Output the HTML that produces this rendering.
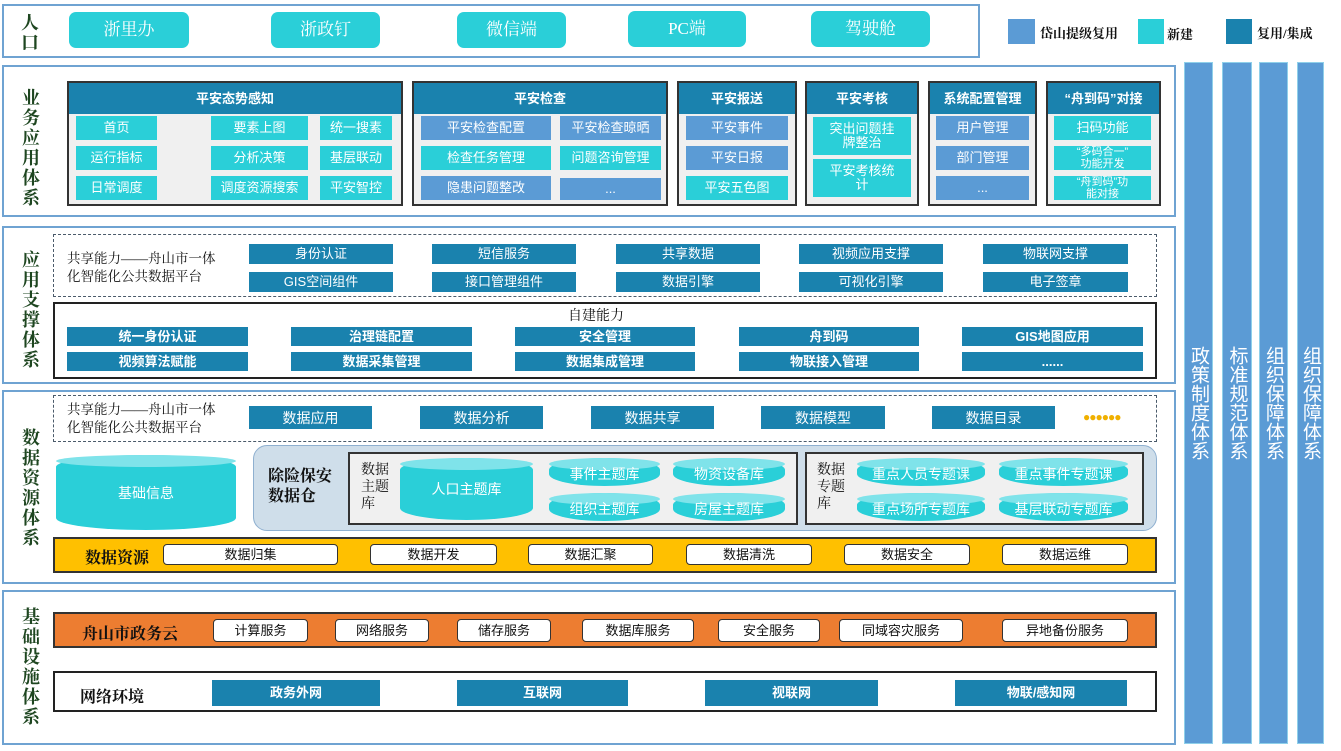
<!DOCTYPE html>
<html><head><meta charset="utf-8"><style>
*{box-sizing:border-box;margin:0;padding:0}
body{width:1341px;height:751px;background:#fff;position:relative;overflow:hidden;font-family:"Liberation Sans","Noto Sans CJK SC",sans-serif}
div{position:absolute}
.sec{border:2px solid #6fa3d2;background:#fff}
.lab{color:#1e4620;font-family:"Liberation Serif","Noto Serif CJK SC",serif;font-weight:bold;font-size:18px;line-height:20px;width:22px;text-align:center}
.c{display:flex;align-items:center;justify-content:center;text-align:center;color:#fff;font-size:13px;line-height:14px}
.cy{background:#2acfd8}.lb{background:#5b9bd5}.dk{background:#1a82ae}
.grp{border:2px solid #333;background:#f0f0f0}
.gh{left:0;top:0;right:0;height:31px;background:#1a82ae;color:#fff;font-weight:bold;font-size:13px}
.ent{background:#2acfd8;border-radius:7px;color:#fff;font-family:"Liberation Serif","Noto Serif CJK SC",serif;font-size:17px}
.vc{background:#5b9bd5;border:1px solid #8fd0ea;color:#fff;font-size:19px;line-height:23px;writing-mode:vertical-rl;display:flex;align-items:center;justify-content:center;font-family:"Liberation Sans","Noto Sans CJK SC",sans-serif}
.dash{border:1.5px dashed #4a5a6a}
.wb{background:#fff;border:1px solid #333;border-radius:4px;color:#111;font-size:13px}
.cyl{background:#2acfd8;border-radius:50%/12px;color:#fff}
.cyl::before{content:"";position:absolute;left:0;right:0;top:0;height:12px;border-radius:50%;background:#7fe3ea}
.cyl span{position:relative}
.bt{color:#111;font-weight:bold}
</style></head><body>

<!-- entry -->
<div class="sec" style="left:2px;top:4px;width:978px;height:54px"></div>
<div class="lab" style="left:19px;top:13px;">人口</div>
<div class="c ent" style="left:69px;top:12px;width:120px;height:36px">浙里办</div>
<div class="c ent" style="left:271px;top:12px;width:109px;height:36px">浙政钉</div>
<div class="c ent" style="left:457px;top:12px;width:109px;height:36px">微信端</div>
<div class="c ent" style="left:628px;top:11px;width:118px;height:36px">PC端</div>
<div class="c ent" style="left:811px;top:11px;width:119px;height:36px">驾驶舱</div>

<!-- legend -->
<div class="lb" style="left:1008px;top:19px;width:27px;height:25px"></div>
<div class="bt" style="left:1040px;top:23px;font-size:13px;font-family:'Liberation Serif','Noto Serif CJK SC',serif">岱山提级复用</div>
<div class="cy" style="left:1138px;top:19px;width:26px;height:25px"></div>
<div class="bt" style="left:1167px;top:24px;font-size:13px;font-family:'Liberation Serif','Noto Serif CJK SC',serif">新建</div>
<div class="dk" style="left:1226px;top:19px;width:26px;height:25px"></div>
<div class="bt" style="left:1257px;top:23px;font-size:13px;font-family:'Liberation Serif','Noto Serif CJK SC',serif">复用/集成</div>

<!-- right cols -->
<div class="vc" style="left:1184px;top:62px;width:29px;height:682px">政策制度体系</div>
<div class="vc" style="left:1222px;top:62px;width:30px;height:682px">标准规范体系</div>
<div class="vc" style="left:1259px;top:62px;width:29px;height:682px">组织保障体系</div>
<div class="vc" style="left:1297px;top:62px;width:27px;height:682px">组织保障体系</div>

<!-- business -->
<div class="sec" style="left:2px;top:65px;width:1174px;height:152px"></div>
<div class="lab" style="left:20px;top:88px;">业务应用体系</div>

<div class="grp" style="left:67px;top:81px;width:336px;height:125px"><div class="c gh">平安态势感知</div></div>
<div class="c cy" style="left:76px;top:116px;width:81px;height:24px">首页</div>
<div class="c cy" style="left:211px;top:116px;width:97px;height:24px">要素上图</div>
<div class="c cy" style="left:320px;top:116px;width:72px;height:24px">统一搜素</div>
<div class="c cy" style="left:76px;top:146px;width:81px;height:24px">运行指标</div>
<div class="c cy" style="left:211px;top:146px;width:97px;height:24px">分析决策</div>
<div class="c cy" style="left:320px;top:146px;width:72px;height:24px">基层联动</div>
<div class="c cy" style="left:76px;top:176px;width:81px;height:24px">日常调度</div>
<div class="c cy" style="left:211px;top:176px;width:97px;height:24px">调度资源搜索</div>
<div class="c cy" style="left:320px;top:176px;width:72px;height:24px">平安智控</div>

<div class="grp" style="left:412px;top:81px;width:256px;height:125px"><div class="c gh">平安检查</div></div>
<div class="c lb" style="left:421px;top:116px;width:130px;height:24px">平安检查配置</div>
<div class="c lb" style="left:560px;top:116px;width:101px;height:24px">平安检查晾晒</div>
<div class="c cy" style="left:421px;top:146px;width:130px;height:24px">检查任务管理</div>
<div class="c cy" style="left:560px;top:146px;width:101px;height:24px">问题咨询管理</div>
<div class="c lb" style="left:421px;top:176px;width:130px;height:24px">隐患问题整改</div>
<div class="c lb" style="left:560px;top:178px;width:101px;height:22px">...</div>

<div class="grp" style="left:677px;top:81px;width:120px;height:125px"><div class="c gh">平安报送</div></div>
<div class="c lb" style="left:686px;top:116px;width:102px;height:24px">平安事件</div>
<div class="c lb" style="left:686px;top:146px;width:102px;height:24px">平安日报</div>
<div class="c cy" style="left:686px;top:176px;width:102px;height:24px">平安五色图</div>

<div class="grp" style="left:805px;top:81px;width:114px;height:125px"><div class="c gh">平安考核</div></div>
<div class="c cy" style="left:813px;top:117px;width:98px;height:38px">突出问题挂<br>牌整治</div>
<div class="c cy" style="left:813px;top:159px;width:98px;height:38px">平安考核统<br>计</div>

<div class="grp" style="left:928px;top:81px;width:109px;height:125px"><div class="c gh">系统配置管理</div></div>
<div class="c lb" style="left:936px;top:116px;width:93px;height:24px">用户管理</div>
<div class="c lb" style="left:936px;top:146px;width:93px;height:24px">部门管理</div>
<div class="c lb" style="left:936px;top:176px;width:93px;height:24px">...</div>

<div class="grp" style="left:1046px;top:81px;width:115px;height:125px"><div class="c gh">“舟到码”对接</div></div>
<div class="c cy" style="left:1054px;top:116px;width:97px;height:24px">扫码功能</div>
<div class="c cy" style="left:1054px;top:146px;width:97px;height:24px;font-size:11px;line-height:12px">“多码合一”<br>功能开发</div>
<div class="c cy" style="left:1054px;top:176px;width:97px;height:24px;font-size:11px;line-height:12px">“舟到码”功<br>能对接</div>

<!-- support -->
<div class="sec" style="left:2px;top:226px;width:1174px;height:158px"></div>
<div class="lab" style="left:20px;top:250px;">应用支撑体系</div>
<div class="dash" style="left:53px;top:234px;width:1104px;height:63px"></div>
<div style="left:67px;top:250px;font-size:13.5px;line-height:18px;color:#111;font-family:'Liberation Serif','Noto Serif CJK SC',serif">共享能力——舟山市一体<br>化智能化公共数据平台</div>
<div class="c dk" style="left:249px;top:244px;width:144px;height:20px">身份认证</div>
<div class="c dk" style="left:432px;top:244px;width:144px;height:20px">短信服务</div>
<div class="c dk" style="left:616px;top:244px;width:144px;height:20px">共享数据</div>
<div class="c dk" style="left:799px;top:244px;width:144px;height:20px">视频应用支撑</div>
<div class="c dk" style="left:983px;top:244px;width:145px;height:20px">物联网支撑</div>
<div class="c dk" style="left:249px;top:272px;width:144px;height:20px">GIS空间组件</div>
<div class="c dk" style="left:432px;top:272px;width:144px;height:20px">接口管理组件</div>
<div class="c dk" style="left:616px;top:272px;width:144px;height:20px">数据引擎</div>
<div class="c dk" style="left:799px;top:272px;width:144px;height:20px">可视化引擎</div>
<div class="c dk" style="left:983px;top:272px;width:145px;height:20px">电子签章</div>

<div style="left:53px;top:302px;width:1104px;height:77px;border:2px solid #222"></div>
<div style="left:568px;top:305px;font-size:14px;color:#111;font-family:'Liberation Serif','Noto Serif CJK SC',serif">自建能力</div>
<div class="c dk" style="left:67px;top:327px;width:181px;height:19px;font-weight:bold">统一身份认证</div>
<div class="c dk" style="left:291px;top:327px;width:181px;height:19px;font-weight:bold">治理链配置</div>
<div class="c dk" style="left:515px;top:327px;width:180px;height:19px;font-weight:bold">安全管理</div>
<div class="c dk" style="left:739px;top:327px;width:180px;height:19px;font-weight:bold">舟到码</div>
<div class="c dk" style="left:962px;top:327px;width:181px;height:19px;font-weight:bold">GIS地图应用</div>
<div class="c dk" style="left:67px;top:352px;width:181px;height:19px;font-weight:bold">视频算法赋能</div>
<div class="c dk" style="left:291px;top:352px;width:181px;height:19px;font-weight:bold">数据采集管理</div>
<div class="c dk" style="left:515px;top:352px;width:180px;height:19px;font-weight:bold">数据集成管理</div>
<div class="c dk" style="left:739px;top:352px;width:180px;height:19px;font-weight:bold">物联接入管理</div>
<div class="c dk" style="left:962px;top:352px;width:181px;height:19px;font-weight:bold">......</div>

<!-- data -->
<div class="sec" style="left:2px;top:390px;width:1174px;height:194px"></div>
<div class="lab" style="left:20px;top:428px;">数据资源体系</div>
<div class="dash" style="left:53px;top:395px;width:1104px;height:47px"></div>
<div style="left:67px;top:401px;font-size:13.5px;line-height:18px;color:#111;font-family:'Liberation Serif','Noto Serif CJK SC',serif">共享能力——舟山市一体<br>化智能化公共数据平台</div>
<div class="c dk" style="left:249px;top:406px;width:123px;height:23px;font-size:14px">数据应用</div>
<div class="c dk" style="left:420px;top:406px;width:123px;height:23px;font-size:14px">数据分析</div>
<div class="c dk" style="left:591px;top:406px;width:123px;height:23px;font-size:14px">数据共享</div>
<div class="c dk" style="left:761px;top:406px;width:124px;height:23px;font-size:14px">数据模型</div>
<div class="c dk" style="left:932px;top:406px;width:123px;height:23px;font-size:14px">数据目录</div>
<div style="left:1083px;top:410px;color:#f0b000;font-size:12px;letter-spacing:-1px">●●●●●●</div>

<div class="c cyl" style="left:56px;top:455px;width:180px;height:75px;font-size:14px"><span>基础信息</span></div>
<div style="left:253px;top:445px;width:904px;height:86px;background:#cfdeea;border:1.5px solid #8fb0d0;border-radius:14px"></div>
<div class="bt" style="left:268px;top:467px;font-size:16px;line-height:20px;font-family:'Liberation Serif','Noto Serif CJK SC',serif">除险保安<br>数据仓</div>
<div class="grp" style="left:348px;top:452px;width:450px;height:73px"></div>
<div style="left:361px;top:462px;font-size:14px;line-height:17px;color:#111;font-family:'Liberation Serif','Noto Serif CJK SC',serif">数据<br>主题<br>库</div>
<div class="c cyl" style="left:400px;top:458px;width:133px;height:62px;font-size:14px"><span>人口主题库</span></div>
<div class="c cyl" style="left:549px;top:458px;width:111px;height:28px;font-size:14px;padding-top:4px"><span>事件主题库</span></div>
<div class="c cyl" style="left:673px;top:458px;width:112px;height:28px;font-size:14px;padding-top:4px"><span>物资设备库</span></div>
<div class="c cyl" style="left:549px;top:493px;width:111px;height:28px;font-size:14px;padding-top:4px"><span>组织主题库</span></div>
<div class="c cyl" style="left:673px;top:493px;width:112px;height:28px;font-size:14px;padding-top:4px"><span>房屋主题库</span></div>
<div class="grp" style="left:805px;top:452px;width:339px;height:73px"></div>
<div style="left:817px;top:462px;font-size:14px;line-height:17px;color:#111;font-family:'Liberation Serif','Noto Serif CJK SC',serif">数据<br>专题<br>库</div>
<div class="c cyl" style="left:857px;top:458px;width:128px;height:28px;font-size:14px;padding-top:4px"><span>重点人员专题课</span></div>
<div class="c cyl" style="left:999px;top:458px;width:129px;height:28px;font-size:14px;padding-top:4px"><span>重点事件专题课</span></div>
<div class="c cyl" style="left:857px;top:493px;width:128px;height:28px;font-size:14px;padding-top:4px"><span>重点场所专题库</span></div>
<div class="c cyl" style="left:999px;top:493px;width:129px;height:28px;font-size:14px;padding-top:4px"><span>基层联动专题库</span></div>

<div style="left:53px;top:537px;width:1104px;height:36px;background:#ffc000;border:2px solid #333"></div>
<div class="bt" style="left:85px;top:545px;font-size:16px;font-family:'Liberation Serif','Noto Serif CJK SC',serif">数据资源</div>
<div class="c wb" style="left:163px;top:544px;width:175px;height:21px">数据归集</div>
<div class="c wb" style="left:370px;top:544px;width:127px;height:21px">数据开发</div>
<div class="c wb" style="left:528px;top:544px;width:125px;height:21px">数据汇聚</div>
<div class="c wb" style="left:686px;top:544px;width:126px;height:21px">数据清洗</div>
<div class="c wb" style="left:844px;top:544px;width:126px;height:21px">数据安全</div>
<div class="c wb" style="left:1002px;top:544px;width:126px;height:21px">数据运维</div>

<!-- infra -->
<div class="sec" style="left:2px;top:590px;width:1174px;height:155px"></div>
<div class="lab" style="left:20px;top:607px;">基础设施体系</div>
<div style="left:53px;top:612px;width:1104px;height:36px;background:#ed7d31;border:2px solid #333"></div>
<div class="bt" style="left:82px;top:621px;font-size:16px;font-family:'Liberation Serif','Noto Serif CJK SC',serif">舟山市政务云</div>
<div class="c wb" style="left:213px;top:619px;width:95px;height:23px">计算服务</div>
<div class="c wb" style="left:335px;top:619px;width:94px;height:23px">网络服务</div>
<div class="c wb" style="left:457px;top:619px;width:94px;height:23px">储存服务</div>
<div class="c wb" style="left:582px;top:619px;width:112px;height:23px">数据库服务</div>
<div class="c wb" style="left:718px;top:619px;width:102px;height:23px">安全服务</div>
<div class="c wb" style="left:839px;top:619px;width:124px;height:23px">同域容灾服务</div>
<div class="c wb" style="left:1002px;top:619px;width:126px;height:23px">异地备份服务</div>
<div style="left:53px;top:671px;width:1104px;height:41px;border:2px solid #222;background:#fff"></div>
<div class="bt" style="left:80px;top:684px;font-size:16px;font-family:'Liberation Serif','Noto Serif CJK SC',serif">网络环境</div>
<div class="c dk" style="left:212px;top:680px;width:168px;height:26px;font-weight:bold">政务外网</div>
<div class="c dk" style="left:457px;top:680px;width:171px;height:26px;font-weight:bold">互联网</div>
<div class="c dk" style="left:705px;top:680px;width:173px;height:26px;font-weight:bold">视联网</div>
<div class="c dk" style="left:955px;top:680px;width:172px;height:26px;font-weight:bold">物联/感知网</div>
</body></html>
